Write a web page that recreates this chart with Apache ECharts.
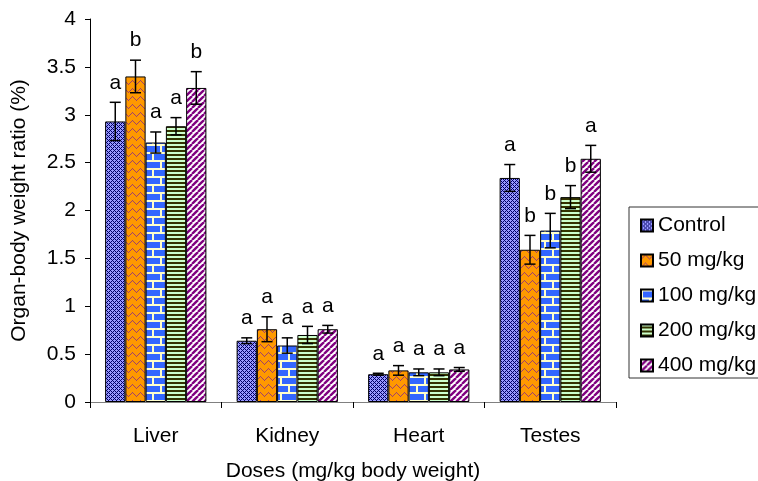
<!DOCTYPE html>
<html>
<head>
<meta charset="utf-8">
<script src="https://cdn.jsdelivr.net/npm/echarts@6/dist/echarts.min.js"></script>
<style>
  html, body { margin: 0; padding: 0; background: #fff; }
  #chart { width: 758px; height: 481px; }
</style>
</head>
<body>
<div id="chart"></div>
<script>
var organs = ["Liver", "Kidney", "Heart", "Testes"];
var doses = ["Control", "50 mg/kg", "100 mg/kg", "200 mg/kg", "400 mg/kg"];

// mean values per dose, in organ order
var control = [2.93, 0.64, 0.29, 2.34];
var dose50 = [3.40, 0.76, 0.33, 1.59];
var dose100 = [2.71, 0.59, 0.31, 1.79];
var dose200 = [2.88, 0.70, 0.31, 2.14];
var dose400 = [3.28, 0.76, 0.34, 2.54];

// standard errors
var errControl = [0.20, 0.03, 0.01, 0.14];
var err50 = [0.17, 0.13, 0.05, 0.15];
var err100 = [0.11, 0.08, 0.035, 0.18];
var err200 = [0.09, 0.09, 0.035, 0.12];
var err400 = [0.17, 0.04, 0.02, 0.14];

// significance letters
var letControl = ["a", "a", "a", "a"];
var let50 = ["b", "a", "a", "b"];
var let100 = ["a", "a", "a", "b"];
var let200 = ["a", "a", "a", "b"];
var let400 = ["b", "a", "a", "a"];

var yTicks = [0, 0.5, 1, 1.5, 2, 2.5, 3, 3.5, 4];

var means = [control, dose50, dose100, dose200, dose400];
var errs = [errControl, err50, err100, err200, err400];
var letters = [letControl, let50, let100, let200, let400];

var FONT = "Liberation Sans";
var catGap = 0.23;

// fill patterns, drawn on small tiles
function tile(w, h, draw) {
  var c = document.createElement("canvas");
  c.width = w;
  c.height = h;
  draw(c.getContext("2d"));
  return { image: c, repeat: "repeat" };
}

var patterns = [
  tile(4, 4, function (g) {
    g.fillStyle = "#9999ff";
    g.fillRect(0, 0, 4, 4);
    g.fillStyle = "#000066";
    for (var x = 0; x < 4; x++) {
      for (var y = 0; y < 4; y++) {
        if ((x + y) % 4 === 0 || (x - y + 4) % 4 === 0) g.fillRect(x, y, 1, 1);
      }
    }
  }),
  tile(8, 8, function (g) {
    g.fillStyle = "#ff9900";
    g.fillRect(0, 0, 8, 8);
    g.fillStyle = "#a0406a";
    for (var x = 0; x < 8; x++) {
      g.fillRect(x, Math.abs(x - 4), 1, 1);
    }
  }),
  tile(16, 16, function (g) {
    g.fillStyle = "#3366ff";
    g.fillRect(0, 0, 16, 16);
    g.fillStyle = "#ffffcc";
    g.fillRect(0, 0, 16, 2);
    g.fillRect(0, 8, 16, 2);
    g.fillRect(0, 2, 2, 6);
    g.fillRect(8, 10, 2, 6);
  }),
  tile(4, 4, function (g) {
    g.fillStyle = "#ccffcc";
    g.fillRect(0, 0, 4, 4);
    g.fillStyle = "#333300";
    g.fillRect(0, 2, 4, 2);
  }),
  tile(6, 6, function (g) {
    g.fillStyle = "#ffffff";
    g.fillRect(0, 0, 6, 6);
    g.strokeStyle = "#800080";
    g.lineWidth = 2.4;
    for (var k = -1; k <= 1; k++) {
      g.beginPath();
      g.moveTo(k * 6, 6);
      g.lineTo(k * 6 + 6, 0);
      g.stroke();
    }
  })
];

var barSeries = doses.map(function (name, i) {
  return {
    name: name,
    type: "bar",
    data: means[i],
    barGap: "0%",
    barCategoryGap: catGap * 100 + "%",
    itemStyle: { color: patterns[i], borderColor: "#000", borderWidth: 1 },
    emphasis: { disabled: true }
  };
});

// error bars and letters: [organ index, mean, error, dose index]
var errData = [];
for (var s = 0; s < doses.length; s++) {
  for (var c = 0; c < organs.length; c++) {
    errData.push([c, means[s][c], errs[s][c], s]);
  }
}

function renderErr(params, api) {
  var c = api.value(0), m = api.value(1), e = api.value(2), s = api.value(3);
  var band = api.size([1, 0])[0];
  var groupW = band * (1 - catGap);
  var bw = groupW / doses.length;
  var x = api.coord([c, 0])[0] - groupW / 2 + bw * (s + 0.5);
  var yTop = api.coord([c, m + e])[1];
  var yBot = api.coord([c, m - e])[1];
  var cap = 5.5;
  var st = { stroke: "#000", lineWidth: 1.5 };
  return {
    type: "group",
    children: [
      { type: "line", shape: { x1: x, y1: yTop, x2: x, y2: yBot }, style: st },
      { type: "line", shape: { x1: x - cap, y1: yTop, x2: x + cap, y2: yTop }, style: st },
      { type: "line", shape: { x1: x - cap, y1: yBot, x2: x + cap, y2: yBot }, style: st },
      {
        type: "text",
        x: x,
        y: yTop - 9,
        style: {
          text: letters[s][c],
          fontFamily: FONT,
          fontSize: 21,
          fill: "#000",
          align: "center",
          verticalAlign: "bottom"
        }
      }
    ]
  };
}

var chart = echarts.init(document.getElementById("chart"));
chart.setOption({
  animation: false,
  backgroundColor: "#fff",
  textStyle: { fontFamily: FONT },
  grid: { left: 90, right: 142, top: 19, bottom: 79, outerBoundsMode: "none" },
  legend: {
    data: doses,
    orient: "vertical",
    left: 629,
    top: 207,
    padding: [8, 40, 2, 11],
    itemWidth: 12,
    itemHeight: 12,
    itemGap: 14,
    borderColor: "#333",
    borderWidth: 1,
    borderRadius: 0,
    icon: "rect",
    textStyle: { fontFamily: FONT, fontSize: 21, color: "#000" }
  },
  xAxis: {
    type: "category",
    data: organs,
    name: "Doses (mg/kg body weight)",
    nameLocation: "middle",
    nameGap: 59,
    nameTextStyle: { fontFamily: FONT, fontSize: 21, color: "#000" },
    axisLine: { lineStyle: { color: "#808080", width: 1 } },
    axisTick: { show: true, length: 6, lineStyle: { color: "#000" } },
    axisLabel: { fontFamily: FONT, fontSize: 21, color: "#000", margin: 24 },
    splitLine: { show: false }
  },
  yAxis: {
    type: "value",
    min: 0,
    max: 4,
    interval: 0.5,
    name: "Organ-body weight ratio (%)",
    nameLocation: "middle",
    nameGap: 60,
    nameTextStyle: { fontFamily: FONT, fontSize: 21, color: "#000" },
    axisLine: { show: true, lineStyle: { color: "#000", width: 1 } },
    axisTick: { show: true, length: 5, lineStyle: { color: "#000" } },
    axisLabel: {
      fontFamily: FONT,
      fontSize: 21,
      color: "#000",
      margin: 14,
      formatter: function (v) {
        return yTicks.indexOf(v) >= 0 ? String(v) : "";
      }
    },
    splitLine: { show: false }
  },
  series: barSeries.concat([
    {
      type: "custom",
      renderItem: renderErr,
      data: errData,
      encode: { x: 0, y: 1 },
      z: 5,
      silent: true
    }
  ])
});
</script>
</body>
</html>
